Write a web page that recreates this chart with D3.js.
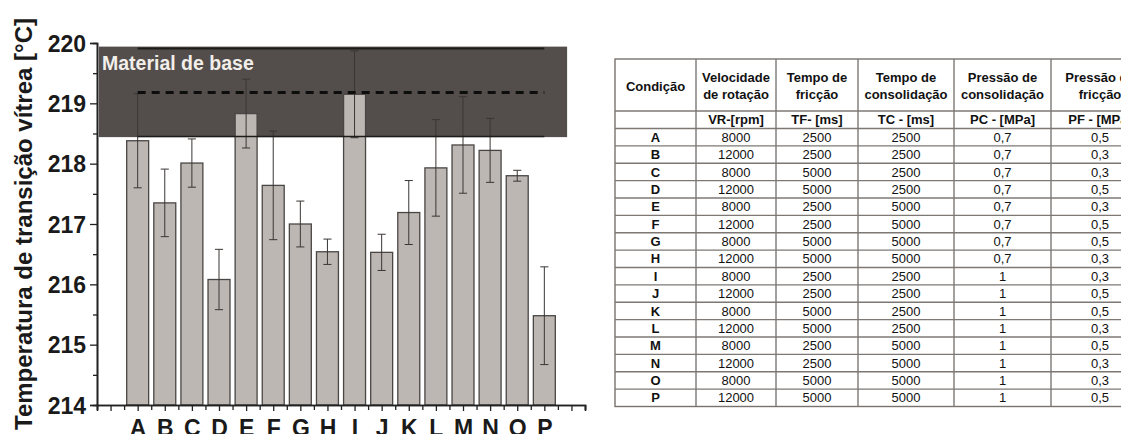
<!DOCTYPE html>
<html><head><meta charset="utf-8">
<script src="https://cdn.jsdelivr.net/npm/d3@7"></script>
<style>
body{margin:0;background:#fff;overflow:hidden}
svg{display:block}
</style></head>
<body>
<svg id="c" width="1121" height="434"></svg>
<script>
// ---------- data ----------
const categories = ["A","B","C","D","E","F","G","H","I","J","K","L","M","N","O","P"];
const tgMean  = [218.38,217.35,218.01,216.08,218.83,217.64,217.00,216.54,219.15,216.53,217.19,217.93,218.31,218.22,217.80,215.48];
const tgError = [0.78,0.56,0.40,0.50,0.57,0.90,0.38,0.21,0.72,0.30,0.53,0.80,0.80,0.53,0.09,0.81];
const baseMean = 219.18;
const baseSd = 0.73;
const baseLabel = "Material de base";
const yTickValues = [214,215,216,217,218,219,220];
const yLabel = "Temperatura de transição vítrea [°C]";

const headerLines = [["Condição"],["Velocidade","de rotação"],["Tempo de","fricção"],["Tempo de","consolidação"],["Pressão de","consolidação"],["Pressão de","fricção"]];
const unitLabels = ["","VR-[rpm]","TF- [ms]","TC - [ms]","PC - [MPa]","PF - [MPa]"];
const velocidade = ["8000","12000","8000","12000","8000","12000","8000","12000","8000","12000","8000","12000","8000","12000","8000","12000"];
const tempoFriccao = ["2500","2500","5000","5000","2500","2500","5000","5000","2500","2500","5000","5000","2500","2500","5000","5000"];
const tempoConsolidacao = ["2500","2500","2500","2500","5000","5000","5000","5000","2500","2500","2500","2500","5000","5000","5000","5000"];
const pressaoConsolidacao = ["0,7","0,7","0,7","0,7","0,7","0,7","0,7","0,7","1","1","1","1","1","1","1","1"];
const pressaoFriccao = ["0,5","0,3","0,3","0,5","0,3","0,5","0,5","0,3","0,3","0,5","0,5","0,3","0,5","0,3","0,3","0,5"];

// ---------- chart ----------
const svg = d3.select("#c");
const FONT = "'Liberation Sans', Arial, Helvetica, sans-serif";
const x = d3.scaleLinear().domain([-0.5, 17.5]).range([97, 585]);
const y = d3.scaleLinear().domain([214, 220]).range([405, 43]);
const pos = (d,i) => i + 1;

// base material band
svg.append("rect")
  .attr("x", x(-0.43)).attr("width", x(16.84) - x(-0.43))
  .attr("y", y(baseMean + baseSd + 0.03)).attr("height", y(baseMean - baseSd - 0.01) - y(baseMean + baseSd + 0.03))
  .attr("fill", "#534e4b");

svg.append("text").attr("x", 102).attr("y", 70)
  .attr("font-family", FONT).attr("font-weight", "bold").attr("font-size", 19.5)
  .attr("fill", "#f2eeea").text(baseLabel);

// bars
const bw = 0.81;
svg.append("g").selectAll("rect").data(tgMean).join("rect")
  .attr("x", (d,i) => x(pos(d,i) - bw/2))
  .attr("width", x(bw) - x(0))
  .attr("y", d => y(d))
  .attr("height", d => y(214) - y(d))
  .attr("fill", "#bcb7b3").attr("stroke", "#4a4644").attr("stroke-width", 1.3);

// error bars
const eg = svg.append("g").attr("stroke", "#3a3634").attr("stroke-width", 1);
tgMean.forEach((d,i) => {
  const cx = x(pos(d,i)), cw = x(0.15) - x(0);
  eg.append("line").attr("x1", cx).attr("x2", cx).attr("y1", y(d + tgError[i])).attr("y2", y(d - tgError[i]));
  eg.append("line").attr("x1", cx - cw).attr("x2", cx + cw).attr("y1", y(d + tgError[i])).attr("y2", y(d + tgError[i]));
  eg.append("line").attr("x1", cx - cw).attr("x2", cx + cw).attr("y1", y(d - tgError[i])).attr("y2", y(d - tgError[i]));
});

// base material lines
svg.append("line").attr("x1", x(1)).attr("x2", x(16)).attr("y1", y(baseMean + baseSd)).attr("y2", y(baseMean + baseSd))
  .attr("stroke", "#1e1c1b").attr("stroke-width", 2);
svg.append("line").attr("x1", x(1)).attr("x2", x(16)).attr("y1", y(baseMean - baseSd)).attr("y2", y(baseMean - baseSd))
  .attr("stroke", "#1e1c1b").attr("stroke-width", 1.5);
svg.append("line").attr("x1", x(1)).attr("x2", x(16)).attr("y1", y(baseMean)).attr("y2", y(baseMean))
  .attr("stroke", "#0e0d0d").attr("stroke-width", 3).attr("stroke-dasharray", "8,6");

// axes
function styleAxis(g){
  g.select(".domain").attr("stroke", "#222").attr("stroke-width", 1.6);
  g.selectAll(".tick line").attr("stroke", "#222").attr("stroke-width", 1.3);
  g.selectAll("text").attr("font-family", FONT).attr("font-weight", "bold").attr("fill", "#1a1a1a");
}
const yMinor = d3.axisLeft(y).tickValues(d3.range(214.5, 220, 1)).tickSize(4).tickFormat("");
svg.append("g").attr("transform", `translate(${x(-0.5)},0)`).call(yMinor).call(styleAxis);
const yMajor = d3.axisLeft(y).tickValues(yTickValues).tickSize(7).tickPadding(4).tickFormat(d3.format("d"));
svg.append("g").attr("transform", `translate(${x(-0.5)},0)`).call(yMajor).call(styleAxis)
  .selectAll("text").attr("font-size", 23).attr("dy", "0.36em");

const xMinor = d3.axisBottom(x).tickValues(d3.range(-0.5, 17.6, 1)).tickSize(5).tickFormat("");
svg.append("g").attr("transform", `translate(0,${y(214)})`).call(xMinor).call(styleAxis);
const xMajor = d3.axisBottom(x).tickValues(d3.range(0, 18, 1)).tickSize(6).tickPadding(9)
  .tickFormat(v => categories[v - 1] || "");
svg.append("g").attr("transform", `translate(0,${y(214)})`).call(xMajor).call(styleAxis)
  .selectAll("text").attr("font-size", 23).attr("dy", "0.71em");

svg.append("text")
  .attr("transform", `translate(32,${(y(214)+y(220))/2}) rotate(-90)`)
  .attr("text-anchor", "middle")
  .attr("font-family", FONT).attr("font-weight", "bold").attr("font-size", 24).attr("fill", "#1a1a1a")
  .text(yLabel);

// ---------- table ----------
const colEdges = [615, 696, 776, 858, 954, 1051, 1149];
const tTop = 59, headerBottom = 111, unitsBottom = 128.5, tBottom = 406.5;
const rowY = d3.scaleBand().domain(categories).range([unitsBottom, tBottom]);
const tbl = svg.append("g");
const cols = [categories, velocidade, tempoFriccao, tempoConsolidacao, pressaoConsolidacao, pressaoFriccao];
const cx = i => (colEdges[i] + colEdges[i+1]) / 2;

tbl.append("rect").attr("x", colEdges[0]).attr("y", tTop).attr("width", colEdges[6]-colEdges[0]).attr("height", tBottom - tTop)
  .attr("fill", "#fff").attr("stroke", "#77726e").attr("stroke-width", 1.4);
// horizontal lines
[headerBottom, unitsBottom, ...categories.slice(1).map(c => rowY(c))].forEach(yy => {
  tbl.append("line").attr("x1", colEdges[0]).attr("x2", colEdges[6]).attr("y1", yy).attr("y2", yy)
    .attr("stroke", "#7d7874").attr("stroke-width", 1.4);
});
colEdges.slice(1, 6).forEach(xx => {
  tbl.append("line").attr("x1", xx).attr("x2", xx).attr("y1", tTop).attr("y2", tBottom)
    .attr("stroke", "#7d7874").attr("stroke-width", 1.4);
});
// header
headerLines.forEach((lines, i) => {
  const mid = (tTop + headerBottom) / 2 + 1;
  lines.forEach((t, k) => {
    tbl.append("text").attr("x", cx(i)).attr("y", mid + (k - (lines.length - 1) / 2) * 16.5)
      .attr("dy", "0.36em").attr("text-anchor", "middle")
      .attr("font-family", FONT).attr("font-weight", "bold").attr("font-size", 13).attr("fill", "#111").text(t);
  });
  tbl.append("text").attr("x", cx(i)).attr("y", (headerBottom + unitsBottom) / 2)
    .attr("dy", "0.36em").attr("text-anchor", "middle")
    .attr("font-family", FONT).attr("font-weight", "bold").attr("font-size", 13).attr("fill", "#111").text(unitLabels[i]);
});
// rows
cols.forEach((col, i) => {
  tbl.append("g").selectAll("text").data(col).join("text")
    .attr("x", cx(i)).attr("y", (d, r) => rowY(categories[r]) + rowY.bandwidth() / 2)
    .attr("dy", "0.36em").attr("text-anchor", "middle")
    .attr("font-family", FONT).attr("font-weight", i === 0 ? "bold" : "normal").attr("font-size", 13)
    .attr("fill", "#111").text(d => d);
});
</script>
</body></html>
